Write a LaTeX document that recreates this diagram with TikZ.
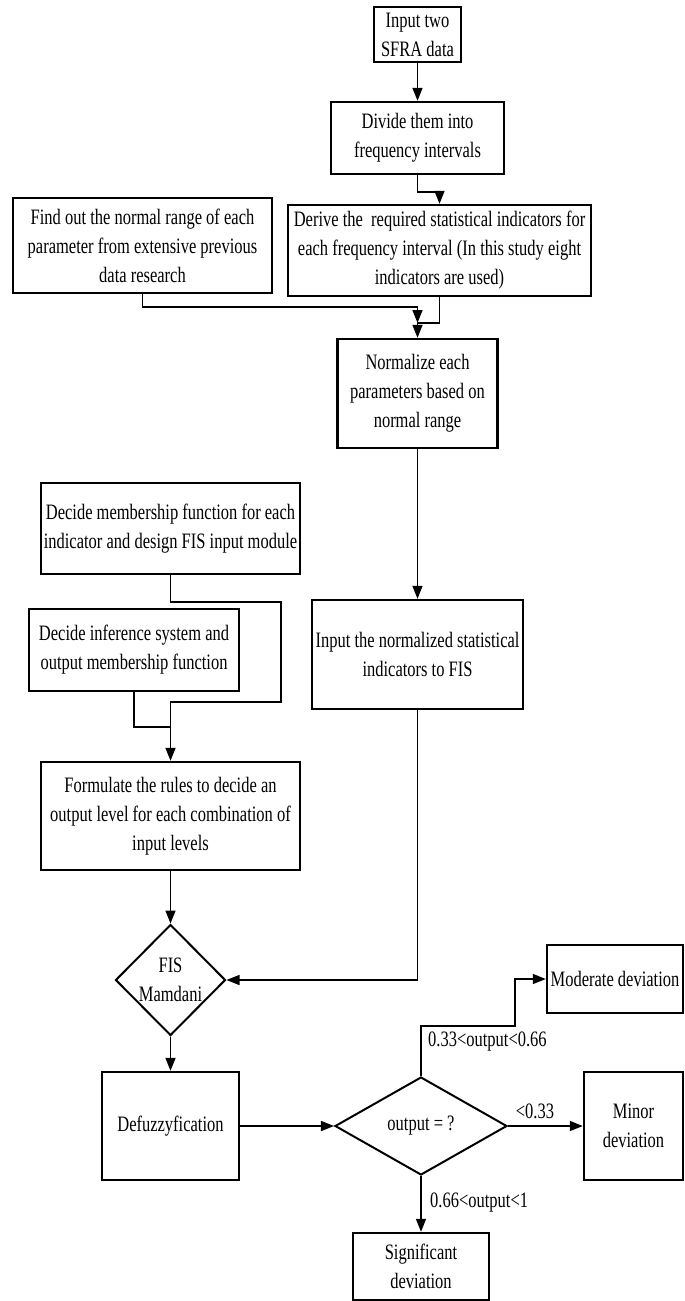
\documentclass[tikz,border=0pt]{standalone}
\usepackage{fontspec}
\setmainfont{Liberation Serif}[FakeStretch=0.75]
\usetikzlibrary{arrows.meta,shapes.geometric}
\begin{document}
\begin{tikzpicture}[x=1pt,y=-1pt,
  txt/.style={font=\fontsize{22}{29}\selectfont},
  box/.style={txt,draw,line width=2.4pt,rectangle,align=center,inner sep=0pt},
  dia/.style={txt,draw,line width=2pt,diamond,align=center,inner sep=0pt},
  conn/.style={line width=1.5pt,-{Triangle[length=13pt,width=10pt]}},
  plain/.style={line width=1.5pt},
  lbl/.style={txt,inner sep=0pt}]
\useasboundingbox (0,0) rectangle (685,1301);
\node[box,minimum width=87pt,minimum height=55pt] (input) at (417.5,34.5) {Input two\\SFRA data};
\node[box,minimum width=173pt,minimum height=72pt] (divide) at (417.5,138) {Divide them into\\frequency intervals};
\node[box,minimum width=259pt,minimum height=95pt] (find) at (142.5,245.5) {Find out the normal range of each\\parameter from extensive previous\\data research};
\node[box,minimum width=303pt,minimum height=91pt] (derive) at (439.5,250.5) {Derive the\ \ required statistical indicators for\\each frequency interval (In this study eight\\indicators are used)};
\node[box,minimum width=160pt,minimum height=109pt] (normalize) at (417.5,393.5) {Normalize each\\parameters based on\\normal range};
\node[box,minimum width=259pt,minimum height=91pt] (member) at (170.5,528.5) {Decide membership function for each\\indicator and design FIS input module};
\node[box,minimum width=210pt,minimum height=82pt] (infer) at (134,650) {Decide inference system and\\output membership function};
\node[box,minimum width=211pt,minimum height=109pt] (inputn) at (417.5,654.5) {Input the normalized statistical\\indicators to FIS};
\node[box,minimum width=259pt,minimum height=108pt] (formulate) at (170.5,816) {Formulate the rules to decide an\\output level for each combination of\\input levels};
\node[dia,minimum width=110pt,minimum height=111pt] (fis) at (170.5,980) {FIS\\Mamdani};
\node[box,minimum width=137pt,minimum height=108pt] (defuzz) at (170.5,1126) {Defuzzyfication};
\node[dia,minimum width=172pt,minimum height=98pt] (dec) at (421,1126) {output = ?};
\node[box,minimum width=136pt,minimum height=68pt] (moderate) at (615,979) {Moderate deviation};
\node[box,minimum width=99pt,minimum height=108pt] (minor) at (633.5,1126) {Minor\\deviation};
\node[box,minimum width=136pt,minimum height=67pt] (signif) at (421,1266.5) {Significant\\deviation};
\coordinate (j0) at (417.5,307);
\coordinate (j1) at (417.5,323);
\coordinate (m1) at (281,602);
\coordinate (m2) at (170.5,702);
\coordinate (m3) at (170.5,727);
\coordinate (d1) at (515,1026);
\draw[conn] (input) -- (divide);
\draw[conn] (divide.south) -- (417.5,192) -| (derive.north);
\draw[conn] (find.south) |- (j0) -- (j1);
\draw[conn] (derive.south) |- (j1) -- (normalize.north);
\draw[conn] (normalize) -- (inputn);
\draw[conn] (member.south) |- (m1) |- (m2) -- (formulate.north);
\draw[plain] (infer.south) |- (m3);
\draw[conn] (formulate) -- (fis);
\draw[conn] (inputn.south) |- (fis.east);
\draw[conn] (fis) -- (defuzz);
\draw[conn] (defuzz) -- (dec);
\draw[conn] (dec.north) |- (d1) |- (moderate.west);
\draw[conn] (dec) -- (minor);
\draw[conn] (dec) -- (signif);
\node[lbl,anchor=west] (l1) at (428,1042) {0.33<output<0.66};
\node[lbl] (l2) at (535,1111) {<0.33};
\node[lbl,anchor=west] (l3) at (430,1203) {0.66<output<1};
\end{tikzpicture}
\end{document}
